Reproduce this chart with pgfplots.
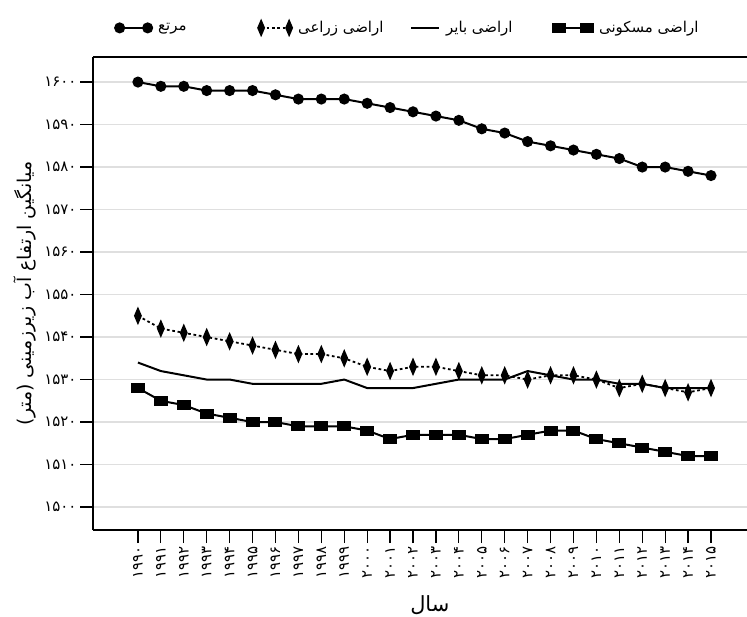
\documentclass[border=0pt]{standalone}
\usepackage{fontspec}
\usepackage{pgfplots}
\usepackage{pgfplotstable}
\pgfplotsset{compat=1.18}
\newfontfamily\arabicfont[Script=Arabic]{DejaVu Sans}
\TeXXeTstate=1

% year, rangeland, farmland, bare land, residential
\pgfplotstableread{
year  rng   agr   bar   res
1990  1600  1545  1534  1528
1991  1599  1542  1532  1525
1992  1599  1541  1531  1524
1993  1598  1540  1530  1522
1994  1598  1539  1530  1521
1995  1598  1538  1529  1520
1996  1597  1537  1529  1520
1997  1596  1536  1529  1519
1998  1596  1536  1529  1519
1999  1596  1535  1530  1519
2000  1595  1533  1528  1518
2001  1594  1532  1528  1516
2002  1593  1533  1528  1517
2003  1592  1533  1529  1517
2004  1591  1532  1530  1517
2005  1589  1531  1530  1516
2006  1588  1531  1530  1516
2007  1586  1530  1532  1517
2008  1585  1531  1531  1518
2009  1584  1531  1530  1518
2010  1583  1530  1530  1516
2011  1582  1528  1529  1515
2012  1580  1529  1529  1514
2013  1580  1528  1528  1513
2014  1579  1527  1528  1512
2015  1578  1528  1528  1512
}\wells

\begin{document}
\begin{tikzpicture}
\useasboundingbox (-93bp,-87bp) rectangle (654bp,530bp);
\begin{axis}[
    at={(0,0)}, anchor=south west,
    scale only axis, width=654bp, height=473bp,
    xmin=1988.04, xmax=2016.57, ymin=1494.6, ymax=1605.9,
    axis x line=box, axis y line=left,
    axis line style={-, line width=2bp, black},
    xtick={1990,...,2015}, xtick pos=bottom,
    ytick={1500,1510,...,1600}, ytick pos=left,
    xticklabels={۱۹۹۰,۱۹۹۱,۱۹۹۲,۱۹۹۳,۱۹۹۴,۱۹۹۵,۱۹۹۶,۱۹۹۷,۱۹۹۸,۱۹۹۹,۲۰۰۰,۲۰۰۱,۲۰۰۲,۲۰۰۳,۲۰۰۴,۲۰۰۵,۲۰۰۶,۲۰۰۷,۲۰۰۸,۲۰۰۹,۲۰۱۰,۲۰۱۱,۲۰۱۲,۲۰۱۳,۲۰۱۴,۲۰۱۵},
    yticklabels={۱۵۰۰,۱۵۱۰,۱۵۲۰,۱۵۳۰,۱۵۴۰,۱۵۵۰,۱۵۶۰,۱۵۷۰,۱۵۸۰,۱۵۹۰,۱۶۰۰},
    tick align=outside, major tick length=13bp,
    tick style={black, line width=1.2bp},
    ymajorgrids, grid style={gray!25, line width=1.5bp},
    ticklabel style={font=\arabicfont\fontsize{15}{18}\selectfont},
    xticklabel style={rotate=90, anchor=east},
    ylabel={\arabicfont\beginR میانگین ارتفاع آب زیرزمینی (متر)\endR},
    every axis y label/.style={at={(axis description cs:-0.104,0.5)}, rotate=90, anchor=center, font=\fontsize{19}{22}\selectfont},
    xlabel={\arabicfont\beginR سال\endR},
    every axis x label/.style={at={(axis description cs:0.515,-0.159)}, anchor=center, font=\fontsize{21}{24}\selectfont},
    legend columns=4,
    legend style={at={(axis description cs:0.029,1.0615)}, anchor=west, draw=none, fill=none,
        font=\arabicfont\fontsize{15}{18}\selectfont,
        /tikz/every odd column/.append style={column sep=4bp},
        /tikz/every even column/.append style={column sep=0bp}},
    legend image code/.code={\draw[#1] plot coordinates {(0bp,0bp) (28bp,0bp)};},
]
\addplot[black, line width=2bp, mark=*, mark size=4.5bp] table[x=year, y=rng] {\wells};
\addlegendentry{\makebox[98bp][l]{\beginR مرتع\endR}}
\addplot[black, line width=1.8bp, dash pattern=on 2.7bp off 2.7bp, mark=diamond*, mark size=7bp, mark options={solid, xscale=0.57}] table[x=year, y=agr] {\wells};
\addlegendentry{\makebox[110bp][l]{\beginR اراضی زراعی\endR}}
\addplot[black, line width=2bp] table[x=year, y=bar] {\wells};
\addlegendentry{\makebox[105bp][l]{\beginR اراضی بایر\endR}}
\addplot[black, line width=2bp, mark=square*, mark size=6bp, mark options={yscale=0.67}] table[x=year, y=res] {\wells};
\addlegendentry{\beginR اراضی مسکونی\endR}
\end{axis}
\end{tikzpicture}
\end{document}
